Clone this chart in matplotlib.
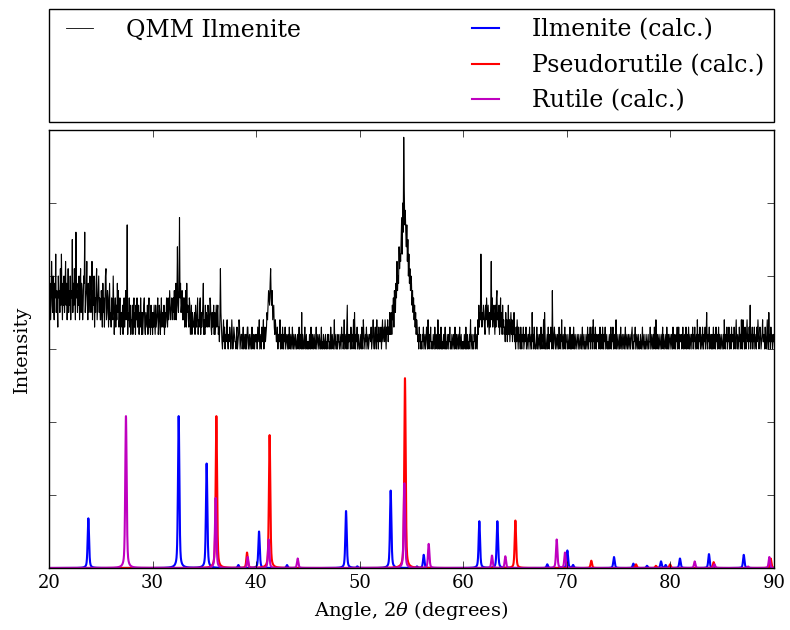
import numpy as np
import matplotlib
matplotlib.use("Agg")
import matplotlib.pyplot as plt
from matplotlib.lines import Line2D

plt.style.use("classic")
plt.rcParams["font.family"] = ["DejaVu Serif"]
plt.rcParams["mathtext.fontset"] = "dejavuserif"

# --- measured QMM ilmenite pattern: counts per 0.05 deg step, 20-90 deg 2theta ---
qmm_start, qmm_step = 20.0, 0.05
qmm_counts = [
    7, 5, 9, 4, 6, 12, 8, 5, 10, 6, 4, 9, 7, 13, 5, 8, 6, 3, 10, 7,
    8, 5, 11, 6, 13, 7, 4, 9, 6, 10, 5, 8, 12, 6, 9, 4, 7, 11, 5, 8,
    6, 10, 4, 8, 7, 15, 5, 9, 6, 11, 8, 4, 16, 7, 9, 5, 8, 6, 10, 4,
    7, 11, 5, 9, 8, 4, 6, 10, 9, 16, 5, 7, 8, 12, 6, 4, 9, 5, 7, 10,
    9, 5, 7, 12, 4, 8, 6, 10, 3, 7, 5, 9, 11, 4, 6, 8, 10, 5, 7, 4,
    4, 8, 6, 3, 9, 5, 7, 3, 6, 10, 11, 4, 5, 8, 7, 3, 6, 9, 4, 5,
    3, 7, 5, 4, 10, 6, 2, 5, 7, 3, 6, 4, 9, 5, 8, 3, 4, 7, 2, 5,
    5, 3, 6, 2, 4, 7, 3, 5, 8, 4, 6, 17, 2, 5, 4, 7, 3, 6, 2, 4,
    4, 6, 2, 5, 7, 3, 5, 2, 6, 4, 7, 3, 4, 6, 2, 5, 3, 7, 4, 2,
    5, 2, 4, 6, 7, 3, 2, 5, 4, 3, 6, 2, 5, 7, 3, 4, 2, 6, 3, 5,
    2, 5, 3, 6, 4, 2, 6, 3, 4, 5, 7, 2, 3, 6, 5, 2, 4, 7, 3, 5,
    4, 3, 6, 2, 5, 3, 4, 7, 5, 3, 7, 4, 5, 8, 6, 4, 5, 7, 6, 4,
    7, 5, 8, 4, 6, 9, 4, 7, 14, 6, 5, 8, 18, 7, 9, 5, 6, 8, 4, 7,
    4, 7, 3, 6, 8, 3, 9, 5, 6, 4, 3, 7, 6, 2, 4, 6, 2, 5, 4, 3,
    3, 5, 2, 6, 4, 3, 5, 7, 2, 4, 3, 6, 7, 2, 5, 3, 4, 6, 9, 2,
    4, 2, 6, 3, 5, 4, 3, 6, 5, 3, 4, 7, 6, 3, 2, 5, 3, 4, 6, 2,
    5, 2, 4, 6, 3, 5, 6, 2, 3, 1, 4, 11, 5, 3, 1, 0, 2, 4, 1, 3,
    0, 2, 1, 3, 4, 1, 0, 2, 1, 3, 2, 0, 1, 4, 2, 0, 1, 3, 2, 1,
    1, 0, 2, 3, 0, 1, 2, 4, 3, 0, 1, 2, 2, 0, 1, 3, 0, 2, 1, 0,
    2, 0, 1, 3, 3, 0, 1, 2, 0, 1, 2, 0, 3, 1, 0, 2, 1, 0, 2, 1,
    1, 2, 0, 3, 2, 1, 4, 0, 1, 2, 0, 3, 1, 2, 4, 0, 2, 3, 1, 2,
    3, 5, 4, 6, 8, 7, 6, 9, 11, 7, 6, 8, 4, 5, 6, 3, 2, 4, 3, 1,
    1, 3, 0, 2, 2, 1, 4, 0, 1, 2, 0, 3, 1, 0, 2, 1, 3, 0, 1, 2,
    1, 0, 2, 0, 3, 1, 0, 2, 1, 0, 3, 1, 0, 2, 1, 0, 2, 1, 0, 1,
    2, 0, 1, 3, 0, 1, 2, 0, 5, 0, 2, 1, 0, 1, 3, 0, 1, 2, 0, 1,
    0, 1, 0, 2, 1, 0, 3, 1, 0, 2, 1, 0, 2, 1, 0, 1, 3, 0, 1, 2,
    1, 0, 2, 1, 0, 1, 3, 0, 1, 0, 2, 1, 0, 1, 2, 0, 1, 0, 2, 1,
    2, 0, 1, 0, 3, 1, 0, 2, 1, 0, 1, 4, 0, 1, 2, 0, 1, 0, 2, 1,
    1, 0, 2, 1, 0, 3, 1, 2, 0, 1, 4, 0, 1, 2, 0, 3, 6, 0, 2, 1,
    1, 2, 0, 3, 1, 0, 2, 1, 4, 0, 5, 1, 0, 2, 1, 3, 0, 1, 2, 0,
    0, 1, 2, 0, 3, 1, 0, 4, 2, 1, 0, 2, 1, 3, 0, 1, 2, 0, 1, 2,
    2, 1, 3, 0, 1, 2, 4, 1, 0, 2, 3, 1, 0, 4, 1, 2, 0, 3, 1, 2,
    1, 3, 0, 2, 4, 1, 2, 3, 1, 4, 2, 0, 3, 2, 4, 1, 3, 2, 5, 2,
    3, 5, 2, 6, 4, 7, 3, 8, 6, 5, 9, 7, 12, 8, 10, 9, 14, 11, 13, 12,
    15, 18, 13, 20, 16, 29, 22, 17, 19, 16, 14, 17, 12, 15, 10, 13, 9, 11, 8, 10,
    9, 6, 8, 5, 7, 4, 6, 3, 5, 2, 4, 3, 1, 2, 0, 3, 1, 2, 0, 1,
    0, 2, 1, 3, 0, 1, 2, 0, 1, 3, 2, 0, 4, 1, 0, 2, 1, 3, 0, 1,
    1, 0, 2, 1, 0, 3, 1, 0, 2, 1, 0, 4, 1, 0, 2, 0, 1, 3, 0, 1,
    0, 1, 2, 0, 1, 3, 0, 1, 0, 2, 1, 0, 2, 1, 3, 0, 1, 0, 2, 1,
    0, 2, 1, 0, 3, 1, 0, 2, 0, 1, 2, 0, 1, 3, 0, 1, 2, 0, 1, 0,
    1, 0, 2, 1, 0, 3, 0, 1, 2, 0, 1, 0, 2, 1, 4, 0, 1, 2, 0, 1,
    0, 2, 1, 3, 0, 2, 1, 0, 4, 2, 6, 3, 5, 4, 13, 7, 3, 5, 4, 6,
    5, 3, 2, 6, 4, 7, 5, 3, 6, 4, 2, 5, 3, 6, 12, 4, 7, 3, 5, 6,
    4, 2, 6, 3, 7, 8, 4, 5, 3, 6, 2, 4, 7, 3, 5, 2, 6, 3, 4, 2,
    3, 1, 5, 2, 4, 1, 3, 6, 2, 4, 1, 3, 5, 2, 4, 1, 3, 2, 5, 1,
    2, 0, 3, 1, 4, 2, 0, 3, 1, 2, 0, 3, 1, 0, 2, 1, 3, 0, 1, 2,
    1, 3, 0, 2, 1, 0, 2, 1, 3, 0, 1, 2, 0, 5, 1, 2, 0, 3, 1, 0,
    0, 1, 3, 0, 2, 1, 0, 2, 1, 0, 3, 1, 0, 2, 1, 4, 0, 5, 2, 0,
    0, 1, 2, 0, 3, 1, 0, 2, 1, 3, 1, 0, 8, 1, 0, 2, 3, 1, 0, 2,
    1, 0, 2, 1, 0, 3, 1, 0, 2, 1, 4, 0, 1, 2, 0, 1, 3, 0, 2, 1,
    1, 0, 2, 1, 0, 1, 3, 0, 2, 0, 1, 2, 0, 3, 1, 0, 2, 1, 0, 1,
    2, 1, 0, 2, 1, 0, 1, 2, 0, 1, 3, 0, 1, 2, 0, 1, 0, 2, 1, 0,
    3, 1, 0, 2, 1, 3, 0, 2, 1, 3, 0, 4, 1, 2, 0, 3, 1, 0, 2, 1,
    1, 2, 0, 1, 3, 0, 1, 2, 0, 3, 1, 0, 2, 1, 3, 0, 1, 2, 0, 1,
    0, 1, 2, 0, 1, 3, 0, 2, 1, 3, 0, 1, 2, 0, 1, 4, 0, 2, 1, 0,
    1, 2, 0, 1, 3, 0, 1, 2, 0, 1, 2, 0, 1, 3, 0, 1, 2, 0, 1, 2,
    0, 1, 2, 0, 1, 2, 3, 0, 1, 0, 2, 1, 3, 0, 1, 2, 0, 1, 2, 0,
    1, 0, 2, 1, 0, 1, 3, 0, 1, 2, 0, 1, 0, 2, 1, 0, 1, 2, 0, 1,
    1, 3, 0, 1, 2, 0, 1, 2, 0, 3, 1, 0, 4, 1, 0, 2, 1, 0, 2, 1,
    0, 1, 2, 0, 1, 3, 0, 2, 1, 0, 1, 2, 0, 3, 1, 0, 2, 0, 1, 2,
    1, 0, 2, 1, 0, 3, 1, 0, 2, 1, 0, 2, 1, 3, 0, 1, 3, 0, 2, 1,
    1, 2, 0, 1, 3, 0, 1, 2, 0, 1, 3, 0, 1, 2, 0, 3, 1, 0, 2, 1,
    0, 2, 1, 3, 0, 2, 1, 3, 0, 1, 2, 0, 4, 1, 0, 2, 1, 3, 0, 2,
    1, 0, 3, 1, 0, 2, 1, 3, 0, 2, 5, 1, 0, 2, 1, 3, 0, 2, 1, 0,
    2, 0, 1, 3, 0, 2, 1, 0, 3, 1, 2, 0, 1, 3, 0, 2, 1, 0, 2, 1,
    0, 1, 2, 0, 4, 1, 0, 2, 1, 3, 0, 2, 1, 3, 0, 1, 2, 0, 3, 1,
    1, 2, 0, 3, 1, 0, 2, 4, 1, 0, 2, 1, 0, 3, 1, 2, 0, 4, 1, 0,
    4, 1, 2, 0, 3, 1, 0, 2, 4, 1, 2, 0, 3, 1, 6, 0, 2, 1, 3, 0,
    2, 1, 3, 0, 1, 2, 0, 3, 1, 4, 2, 0, 1, 3, 2, 0, 1, 2, 4, 1,
    1, 2, 0, 3, 1, 0, 2, 4, 1, 0, 5, 1, 2, 0, 3, 1, 2, 0, 1, 2,
    1,
]
qmm_offset = 3.0      # vertical offset of the measured trace
qmm_scale = 0.1       # intensity units per count

# --- calculated reflections: (2theta, relative intensity) ---
ilm_pos = [23.80, 32.52, 35.22, 38.28, 40.28, 42.98, 48.68, 49.77, 52.99, 55.53,
           56.18, 61.55, 63.29, 68.11, 70.05, 70.60, 74.55, 76.42, 77.74, 79.09,
           79.54, 80.92, 83.72, 87.08]
ilm_int = [0.68, 2.08, 1.43, 0.04, 0.50, 0.04, 0.78, 0.02, 1.06, 0.02,
           0.18, 0.64, 0.64, 0.05, 0.24, 0.04, 0.15, 0.06, 0.03, 0.09,
           0.04, 0.13, 0.19, 0.18]

pse_pos = [36.16, 39.12, 41.30, 54.37, 65.03, 72.36, 76.68, 78.60, 79.96, 84.17, 89.68]
pse_int = [2.08, 0.21, 1.82, 2.60, 0.65, 0.10, 0.05, 0.03, 0.05, 0.08, 0.13]

rut_pos = [27.43, 36.09, 39.18, 41.21, 44.01, 54.31, 56.66, 62.77, 64.06, 69.02,
           69.82, 82.34, 84.25, 87.50, 89.55]
rut_int = [2.08, 0.96, 0.15, 0.39, 0.13, 1.16, 0.33, 0.17, 0.16, 0.39,
           0.21, 0.09, 0.05, 0.02, 0.15]


def pseudo_voigt(x, centers, heights, fwhm=0.16, eta=0.5):
    y = np.zeros_like(x)
    hw = fwhm / 2.0
    for c, h in zip(centers, heights):
        d = (x - c) / hw
        y += h * (eta / (1.0 + d ** 2) + (1.0 - eta) * np.exp(-np.log(2) * d ** 2))
    return y


tt_qmm = qmm_start + qmm_step * np.arange(len(qmm_counts))
y_qmm = qmm_offset + qmm_scale * np.asarray(qmm_counts, dtype=float)
tt = np.linspace(20, 90, 7001)

fig = plt.figure(figsize=(7.9, 6.3), dpi=100, facecolor="white")
ax = fig.add_axes([49 / 790, 1 - 568 / 630, 725 / 790, 438 / 630])

ax.plot(tt_qmm, y_qmm, color="k", lw=0.8)
ax.plot(tt, pseudo_voigt(tt, ilm_pos, ilm_int), color="b", lw=1.5)
ax.plot(tt, pseudo_voigt(tt, pse_pos, pse_int), color="r", lw=1.5)
ax.plot(tt, pseudo_voigt(tt, rut_pos, rut_int), color="m", lw=1.5)

ax.set_xlim(20, 90)
ax.set_ylim(0, 6)
ax.set_xticks(np.arange(20, 91, 10))
ax.set_yticks(np.arange(0, 7, 1))
ax.set_yticklabels([])
ax.tick_params(axis="both", which="major", length=5, labelsize=13)
ax.set_xlabel(r"Angle, $2\theta$ (degrees)", fontsize=14)
ax.set_ylabel("Intensity", fontsize=14, labelpad=9)

blank = Line2D([], [], color="none")
handles = [
    Line2D([], [], color="k", lw=0.6), blank, blank,
    Line2D([], [], color="b", lw=1.5),
    Line2D([], [], color="r", lw=1.5),
    Line2D([], [], color="m", lw=1.5),
]
labels = ["QMM Ilmenite", "", "", "Ilmenite (calc.)", "Pseudorutile (calc.)", "Rutile (calc.)"]
ax.legend(handles, labels, bbox_to_anchor=(0.0, 1.018, 1.0, 0.258), loc="lower left",
          ncol=2, mode="expand", borderaxespad=0.0, fontsize=17,
          handlelength=1.75, handletextpad=1.1, labelspacing=0.52, borderpad=0.42)

fig.savefig("out.png", dpi=100, facecolor="white")
